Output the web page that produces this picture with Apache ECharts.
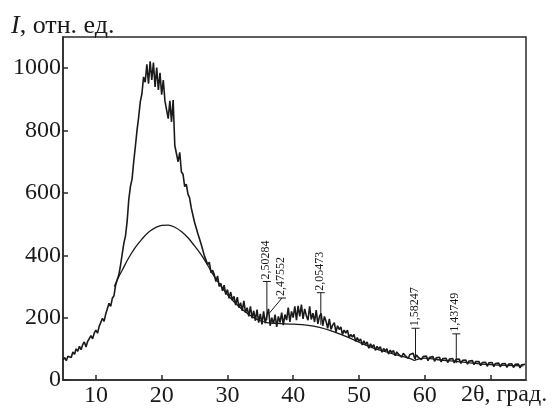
<!DOCTYPE html>
<html>
<head>
<meta charset="utf-8">
<script src="https://cdn.jsdelivr.net/npm/echarts@6/dist/echarts.min.js"></script>
<style>
  html, body { margin: 0; padding: 0; background: #fff; }
  #chart { width: 558px; height: 410px; }
</style>
</head>
<body>
<div id="chart"></div>
<script>
// шаг съёмки по 2θ
const thetaStart = 5;
const thetaStep = 0.25;

// интенсивность, отн. ед. (шаг 0.25 град.)
const intensity = [
  64, 72, 62, 76,   80, 72, 90, 82,   100, 92, 108, 97,   114, 122, 106, 124,   128, 142, 132, 150,
  160, 150, 172, 178,   198, 188, 212, 216,   246, 236, 262, 270,   304, 322, 338, 368,   404, 438, 462, 508,
  578, 620, 644, 700,   748, 800, 842, 892,   918, 972, 955, 1012,   950, 1022, 962, 1018,   940, 1002, 930, 985,
  915, 962, 895, 890,   838, 895, 828, 898,   752, 758, 700, 730,   668, 660, 620, 628,   596, 584, 552, 552,
  506, 504, 470, 468,   436, 432, 398, 404,   370, 378, 344, 352,   338, 316, 334, 300,   310, 286, 304, 274,
  290, 262, 282, 256,   268, 240, 266, 232,   248, 222, 254, 216,   232, 204, 236, 198,   222, 190, 226, 184,
  212, 178, 220, 182,   206, 228, 174, 200,   180, 210, 170, 204,   184, 216, 176, 210,   192, 232, 186, 220,
  200, 236, 192, 238,   204, 242, 196, 228,   206, 192, 236, 194,   214, 186, 224, 180,   204, 214, 174, 204,
  188, 166, 196, 162,   176, 184, 154, 174,   162, 170, 146, 160,   150, 160, 136, 146,   138, 146, 124, 136,
  124, 132, 112, 126,   114, 122, 102, 116,   106, 113, 95, 108,   99, 107, 89, 101,   93, 100, 83, 96,
  88, 95, 78, 90,   83, 89, 73, 86,   79, 85, 69, 82,   76, 86, 68, 80,   73, 79, 65, 75,
  71, 77, 62, 73,   69, 75, 60, 71,   67, 73, 58, 69,   65, 70, 56, 67,   63, 69, 55, 66,
  61, 67, 53, 63,   59, 64, 51, 61,   57, 62, 49, 59,   54, 59, 46, 56,   52, 57, 44, 55,
  51, 56, 43, 53,   49, 54, 42, 52,   48, 53, 40, 51,   48, 52, 40, 50,   47, 51, 39, 49,
  46, 50
];

// аморфное гало / фон (плавная кривая)
const haloTheta = [12.8, 13.5, 14, 15, 16, 17, 18, 19, 20, 21, 22, 23, 24, 25, 26, 27, 28, 29, 30,
  31, 32, 33, 34, 35, 36, 37, 38, 40, 42, 44, 46, 48, 50, 52, 54, 56, 58, 58.4, 59, 60, 62, 65, 70, 75];
const haloValue = [300, 332, 352, 392, 425, 452, 474, 488, 496, 497, 490, 476, 456, 430, 402, 368, 332, 302, 274,
  251, 231, 214, 200, 190, 184, 182, 181, 179, 176, 169, 156, 140, 121, 104, 91, 79, 67, 63, 67, 70, 65, 59, 49, 45];

// межплоскостные расстояния (подписи пиков)
const peakLabels = ['2,50284', '2,47552', '2,05473', '1,58247', '1,43749'];
const peakTheta = [36.0, 36.4, 44.2, 58.6, 64.8];   // 2θ основания выноски
const peakFoot = [192, 215, 177, 64, 54];           // интенсивность у основания
const peakHead = [316, 263, 280, 166, 148];         // интенсивность у черты подписи
const peakHeadTheta = [36.0, 38.3, 44.2, 58.6, 64.8];

const fontFamily = 'Liberation Serif';
const ink = '#1a1a1a';

let mainData = intensity.map(function (v, i) {
  return [thetaStart + i * thetaStep, v];
});
let haloData = haloTheta.map(function (t, i) {
  return [t, haloValue[i]];
});
let peakData = peakTheta.map(function (t, i) {
  return [t, peakFoot[i], peakHead[i], peakHeadTheta[i]];
});

let chart = echarts.init(document.getElementById('chart'), null, { renderer: 'canvas' });

let option = {
  backgroundColor: '#fff',
  animation: false,
  title: {
    text: '{i|I}, отн. ед.',
    left: 11,
    top: 13,
    padding: 0,
    textStyle: {
      fontFamily: fontFamily,
      fontSize: 26,
      fontWeight: 'normal',
      color: ink,
      rich: {
        i: { fontFamily: fontFamily, fontSize: 26, fontStyle: 'italic', color: ink }
      }
    }
  },
  grid: {
    left: 63,
    right: 32,
    top: 37,
    bottom: 30,
    show: true,
    borderColor: '#2a2a2a',
    borderWidth: 1.5
  },
  xAxis: {
    type: 'value',
    min: 5,
    max: 75.4,
    axisLine: { show: true, lineStyle: { color: '#2a2a2a', width: 1.5 } },
    axisTick: {
      show: true, inside: true, length: 5,
      customValues: [10, 20, 30, 40, 50, 60, 70],
      lineStyle: { color: '#2a2a2a', width: 1.5 }
    },
    axisLabel: {
      customValues: [10, 20, 30, 40, 50, 60],
      formatter: function (v) { return String(v); },
      margin: 4,
      fontFamily: fontFamily,
      fontSize: 24,
      color: ink
    },
    splitLine: { show: false }
  },
  yAxis: {
    type: 'value',
    min: 0,
    max: 1100,
    axisLine: { show: true, lineStyle: { color: '#2a2a2a', width: 1.5 } },
    axisTick: {
      show: true, inside: true, length: 5,
      customValues: [0, 200, 400, 600, 800, 1000],
      lineStyle: { color: '#2a2a2a', width: 1.5 }
    },
    axisLabel: {
      customValues: [0, 200, 400, 600, 800, 1000],
      formatter: function (v) { return String(v); },
      margin: 2,
      fontFamily: fontFamily,
      fontSize: 24,
      color: ink
    },
    splitLine: { show: false }
  },
  graphic: [{
    type: 'text',
    left: 461,
    top: 383,
    style: {
      text: '2θ, град.',
      font: '24px "Liberation Serif"',
      fill: ink
    }
  }],
  series: [
    {
      // дифрактограмма
      type: 'line',
      data: mainData,
      showSymbol: false,
      lineStyle: { color: ink, width: 1.6 },
      z: 3
    },
    {
      // гало
      type: 'line',
      data: haloData,
      smooth: 0.4,
      showSymbol: false,
      lineStyle: { color: ink, width: 1.3 },
      z: 2
    },
    {
      // выноски с межплоскостными расстояниями
      type: 'custom',
      data: peakData,
      encode: { x: [0, 3], y: [1, 2] },
      clip: false,
      z: 4,
      renderItem: function (params, api) {
        let foot = api.coord([api.value(0), api.value(1)]);
        let head = api.coord([api.value(3), api.value(2)]);
        let label = peakLabels[params.dataIndex];
        return {
          type: 'group',
          children: [
            {
              type: 'line',
              shape: { x1: foot[0], y1: foot[1], x2: head[0], y2: head[1] },
              style: { stroke: ink, lineWidth: 1 }
            },
            {
              type: 'line',
              shape: { x1: head[0] - 4, y1: head[1], x2: head[0] + 4, y2: head[1] },
              style: { stroke: ink, lineWidth: 1 }
            },
            {
              type: 'text',
              x: head[0] - 1,
              y: head[1] - 2,
              rotation: Math.PI / 2,
              style: {
                text: label,
                font: '12px "Liberation Serif"',
                fill: ink,
                align: 'left',
                verticalAlign: 'middle'
              }
            }
          ]
        };
      }
    }
  ]
};

chart.setOption(option);
</script>
</body>
</html>
